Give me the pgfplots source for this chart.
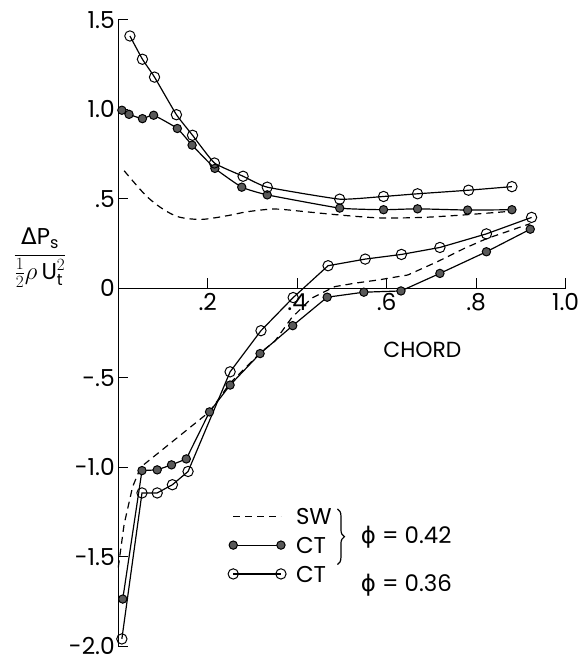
\documentclass[border=0pt]{standalone}
\usepackage{fontspec}
\setmainfont{Poppins}
\newfontfamily\dejavu{DejaVu Sans}
\usepackage{amsmath}
\usepackage{pgfplots}
\pgfplotsset{compat=1.18}
\usetikzlibrary{decorations.pathreplacing}

\pgfplotstableread{
x y
0.026 1.41
0.054 1.28
0.081 1.18
0.130 0.97
0.166 0.855
0.215 0.70
0.279 0.626
0.333 0.565
0.495 0.498
0.593 0.513
0.669 0.528
0.783 0.548
0.880 0.568
}\openup
\pgfplotstableread{
x y
0.008 0.995
0.024 0.972
0.054 0.948
0.079 0.967
0.132 0.893
0.165 0.80
0.216 0.67
0.276 0.565
0.333 0.522
0.495 0.448
0.593 0.439
0.669 0.444
0.781 0.437
0.880 0.439
}\filledup
\pgfplotstableread{
x y
0.013 0.657
0.061 0.52
0.099 0.444
0.136 0.398
0.187 0.385
0.247 0.407
0.284 0.426
0.33 0.44
0.36 0.442
0.43 0.425
0.506 0.407
0.587 0.393
0.68 0.396
0.773 0.41
0.876 0.43
}\dashup
\pgfplotstableread{
x y
0.008 -1.96
0.053 -1.144
0.087 -1.144
0.121 -1.098
0.156 -1.024
0.250 -0.467
0.319 -0.237
0.391 -0.052
0.469 0.126
0.552 0.163
0.633 0.189
0.719 0.228
0.823 0.304
0.924 0.396
}\openlow
\pgfplotstableread{
x y
0.010 -1.737
0.053 -1.019
0.087 -1.015
0.119 -0.987
0.152 -0.954
0.204 -0.691
0.250 -0.541
0.317 -0.365
0.390 -0.209
0.467 -0.05
0.549 -0.022
0.632 -0.015
0.719 0.083
0.823 0.204
0.921 0.33
}\filledlow
\pgfplotstableread{
x y
0.0 -1.56
0.013 -1.32
0.032 -1.11
0.05 -1.0
0.204 -0.69
0.25 -0.53
0.32 -0.355
0.35 -0.296
0.387 -0.167
0.432 -0.056
0.484 0.009
0.528 0.028
0.58 0.046
0.647 0.074
0.713 0.148
0.773 0.222
0.824 0.278
0.921 0.361
}\dashlow

\begin{document}
\begin{tikzpicture}[x=1pt,y=1pt]
\path (-119,-17) rectangle (467,650);
\begin{axis}[
  at={(0,0)}, anchor=south west,
  scale only axis, width=450pt, height=630pt,
  xmin=0, xmax=1, ymin=-2, ymax=1.5,
  axis x line=middle, axis y line=left,
  axis line style={-, line width=1.2pt},
  clip=false,
  tick align=inside,
  major tick length=10pt,
  tick style={line width=1.2pt, black},
  xtick={0.2,0.4,0.6,0.8,1.0},
  xticklabels={.2,.4,.6,.8,1.0},
  ytick={-2,-1.5,-1,-0.5,0,0.5,1,1.5},
  yticklabels={-2.0,-1.5,-1.0,-.5,0,.5,1.0,1.5},
  hide obscured y ticks=false,
  hide obscured x ticks=false,
  ticklabel style={font=\fontsize{23.5}{26}\selectfont},
  xticklabel style={yshift=-2pt},
  every axis plot/.append style={line width=1.2pt, black},
  legend image code/.code={\draw[#1] plot coordinates {(0pt,0pt) (48pt,0pt)};},
  legend style={at={(axis cs:0.245,-1.215)}, anchor=north west, draw=none, fill=none,
    font=\fontsize{23}{26}\selectfont, row sep=8pt, column sep=8pt, inner sep=0pt,
    nodes={text height=17pt, text depth=0pt, inner sep=2pt}},
  legend cell align=left,
]
\addplot[dashed, dash pattern=on 7pt off 5pt, smooth, tension=0.5] table {\dashup};
\addlegendentry{SW}
\addplot[mark=*, mark size=4.2pt, mark options={fill=black!65, draw=black, line width=1pt}, smooth, tension=0.25] table {\filledup};
\addlegendentry{CT}
\addplot[mark=o, mark size=5.2pt, mark options={fill=white, draw=black, line width=1pt}, smooth, tension=0.25] table {\openup};
\addlegendentry{CT}
\addplot[dashed, dash pattern=on 7pt off 5pt, forget plot] table {\dashlow};
\addplot[mark=*, mark size=4.2pt, mark options={fill=black!65, draw=black, line width=1pt}, forget plot] table {\filledlow};
\addplot[mark=o, mark size=5.2pt, mark options={fill=white, draw=black, line width=1pt}, forget plot] table {\openlow};
\draw[decorate, decoration={brace, amplitude=7pt}, line width=1.2pt] (axis cs:0.49,-1.233) -- (axis cs:0.49,-1.544);
\node[anchor=west, font=\fontsize{23}{26}\selectfont, inner sep=0pt] at (axis cs:0.542,-1.39) {{\dejavu ϕ} = 0.42};
\node[anchor=west, font=\fontsize{23}{26}\selectfont, inner sep=0pt] at (axis cs:0.542,-1.66) {{\dejavu ϕ} = 0.36};
\node[font=\fontsize{22}{24}\selectfont] at (axis cs:0.68,-0.345) {CHORD};
\node[font=\fontsize{23}{26}\selectfont] at (axis cs:-0.175,0.17) {$\dfrac{\text{{\dejavu Δ}P}_{\text{s}}}{\tfrac{1}{2}\rho\,\text{U}_{\text{t}}^{2}}$};
\end{axis}
\end{tikzpicture}
\end{document}
